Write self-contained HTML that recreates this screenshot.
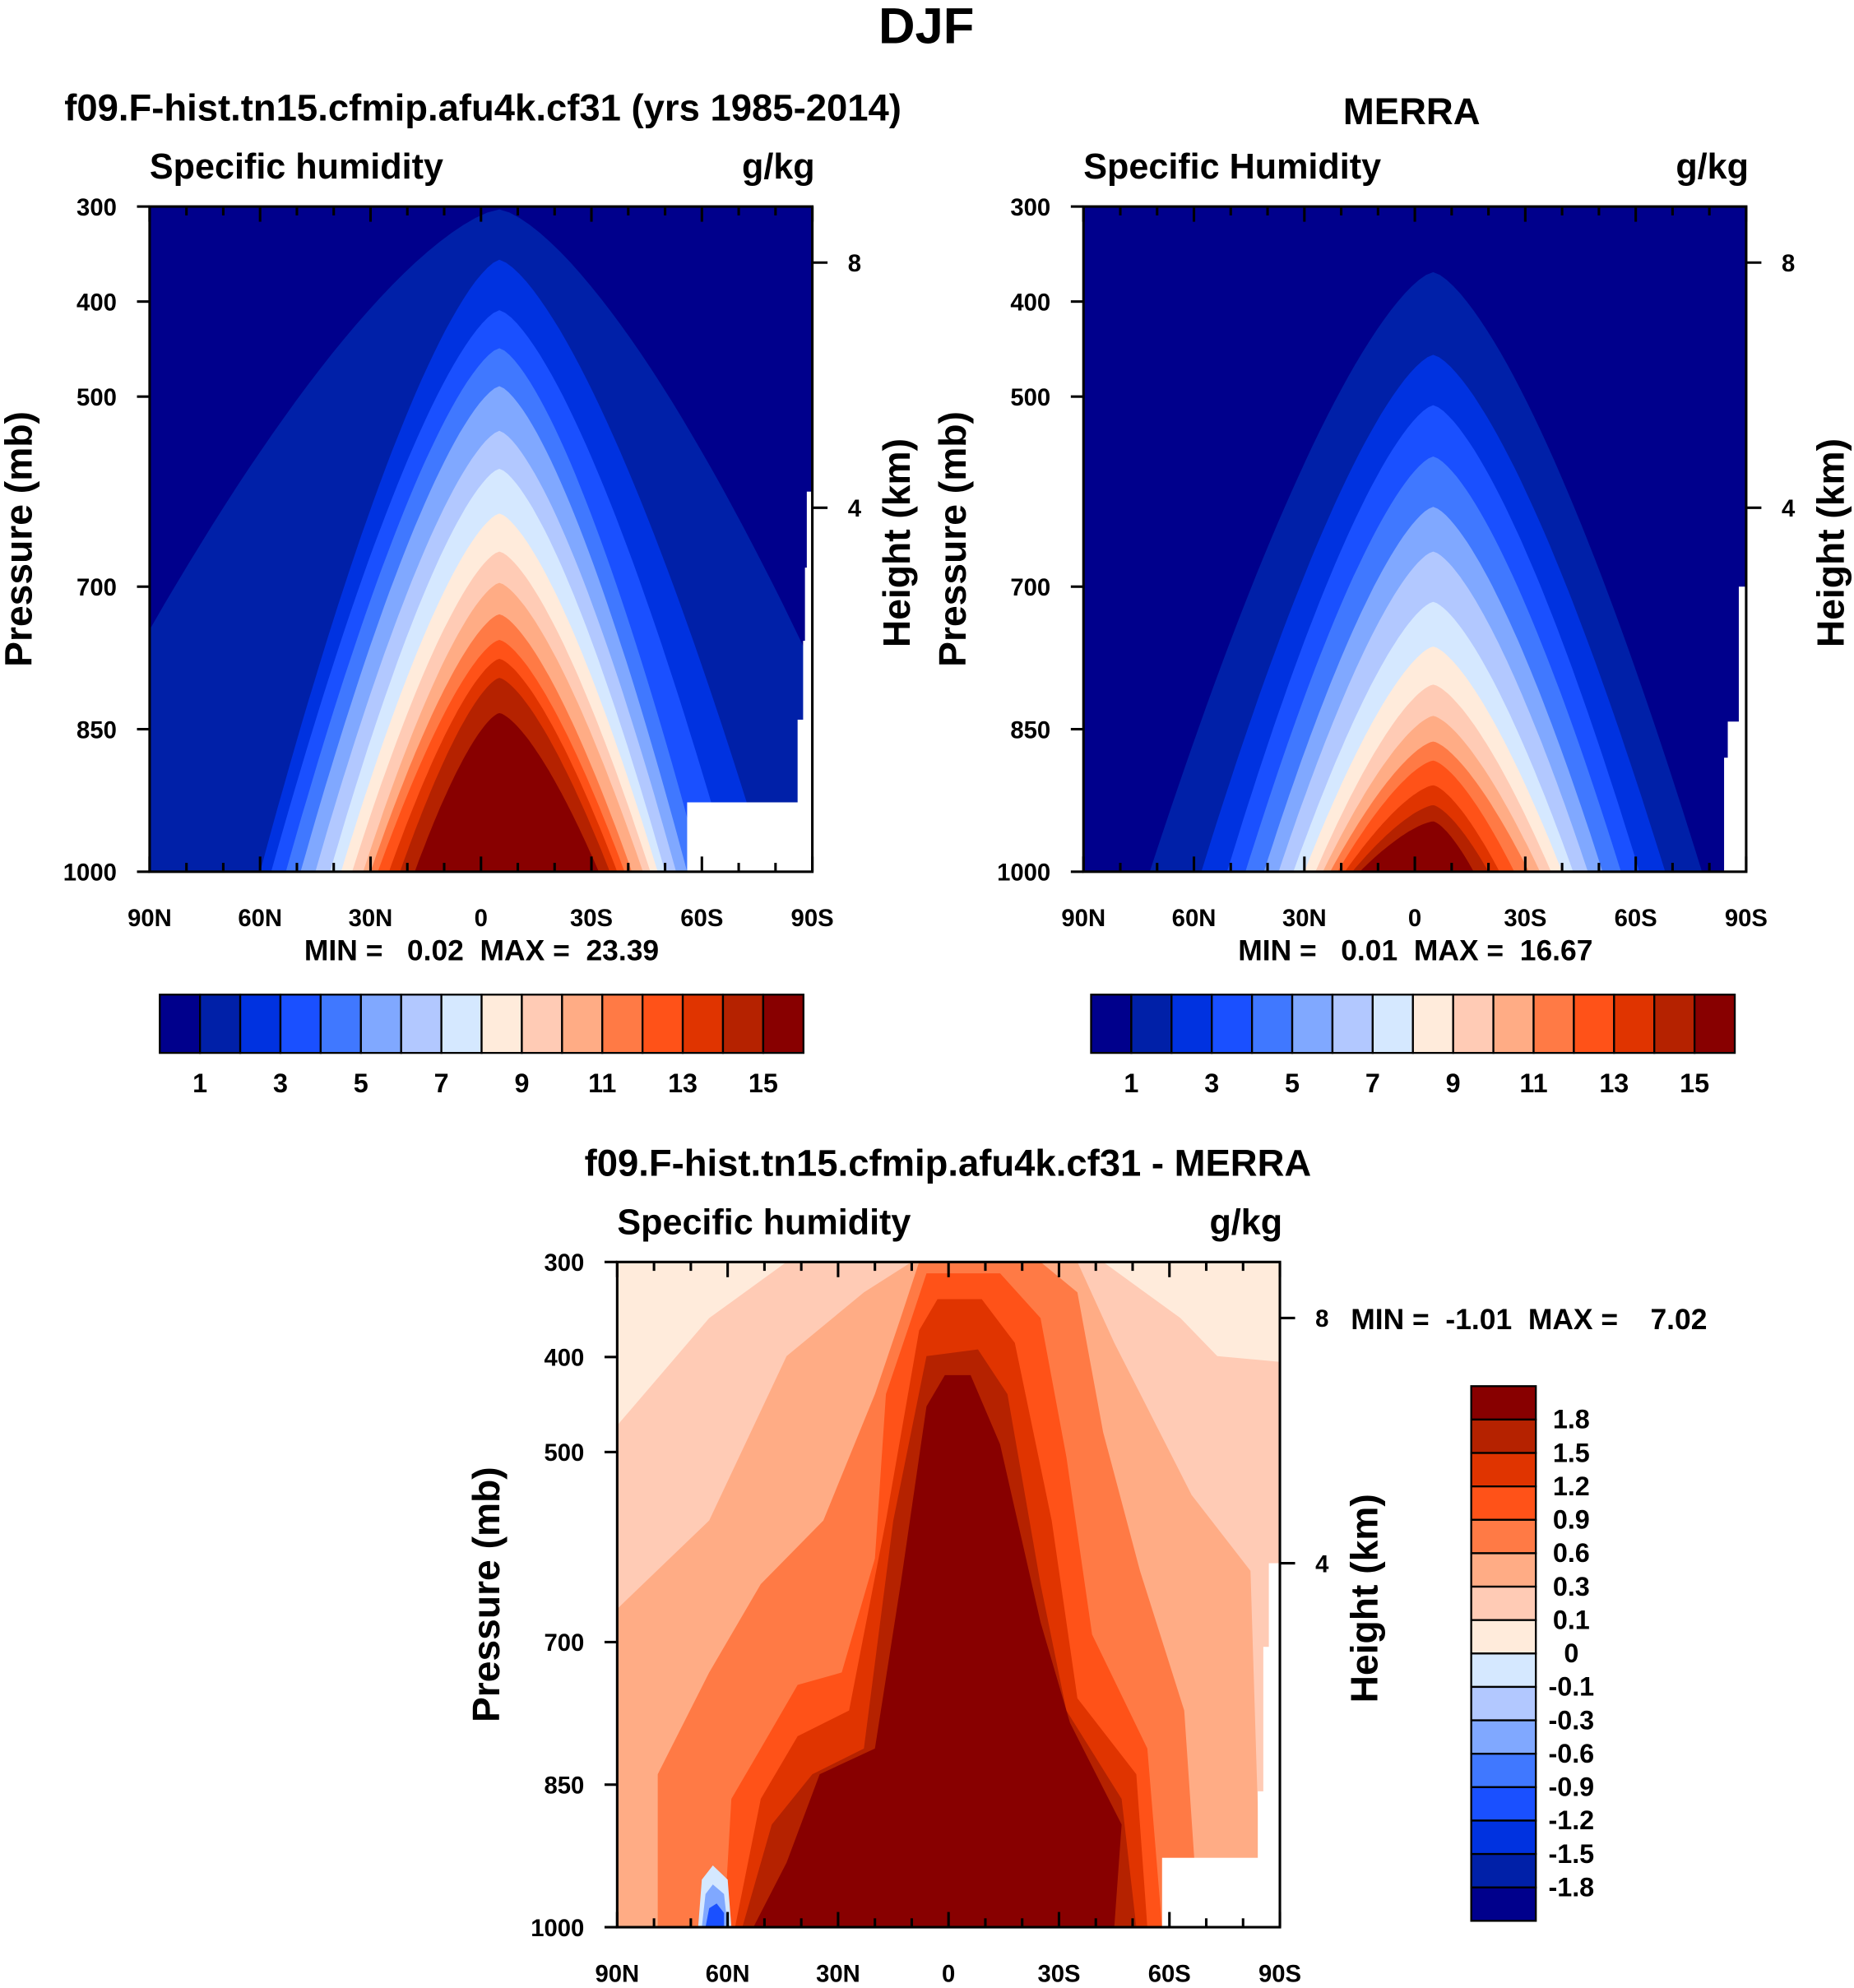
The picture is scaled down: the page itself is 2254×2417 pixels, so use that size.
<!DOCTYPE html>
<html><head><meta charset="utf-8"><style>
html,body{margin:0;padding:0;background:#fff}
svg{display:block}
text{font-family:"Liberation Sans",Arial,sans-serif;font-weight:bold;fill:#000;white-space:pre}
</style></head><body>
<svg id="root" xmlns="http://www.w3.org/2000/svg" width="2254" height="2417" viewBox="0 0 1463 1569">
<text x="731" y="34" font-size="40" text-anchor="middle">DJF</text>
<text x="381" y="95" font-size="29.5" text-anchor="middle">f09.F-hist.tn15.cfmip.afu4k.cf31 (yrs 1985-2014)</text>
<text x="1114" y="98" font-size="29.5" text-anchor="middle">MERRA</text>
<text x="748" y="928" font-size="29.5" text-anchor="middle">f09.F-hist.tn15.cfmip.afu4k.cf31 - MERRA</text>
<g id="plots"></g>
</svg>
<script>
// ---- data ----
const cols=['#00008c','#0020a8','#0032e0','#1a50ff','#4078ff','#80a8ff','#b2c8ff','#d5e8ff','#ffebdb','#ffcbb5','#ffac85','#ff7a45','#ff5218','#e03400','#b52200','#880000'];
const topLabels=['1','3','5','7','9','11','13','15'];
const diffLabels=['1.8','1.5','1.2','0.9','0.6','0.3','0.1','0','-0.1','-0.3','-0.6','-0.9','-1.2','-1.5','-1.8'];
const latLabels=['90N','60N','30N','0','30S','60S','90S'];
const presTicks=[300,400,500,700,850,1000];
const heightTicks=[8,4];
const heightPres=[359,617];
const p1Left=[-125,-60,-57,-53,-49,-45,-41,-38,-35,-32,-30,-28,-25,-22,-18];
const p1Right=[115,78,68,60,56,53,50,48,46,44,41,39,37,35,32];
const p1Top=[303,356,409,449,489,536,576,623,663,696,729,756,776,796,833];
const p1Peak=5;
const p2Left=[-72,-58,-51,-46,-41,-37,-33,-30,-27,-25,-23,-21,-19,-17,-15];
const p2Right=[78,68,61,56,51,47,43,40,37,34,31,27,23,20,16];
const p2Top=[369,456,509,563,616,663,716,763,803,836,863,883,909,930,947];
const p2Peak=5;
const d01=[[-90,472],[-65,359],[-44,300],[42,300],[63,359],[73,399],[90,405],[90,1000],[-90,1000]];
const d03=[[-90,665],[-65,572],[-44,399],[-23,332],[-10,300],[35,300],[45,385],[66,545],[82,625],[85,1000],[-90,1000],[-90,959]];
const d06=[[-79,1000],[-79,839],[-65,732],[-51,639],[-34,572],[-20,439],[-13,359],[-8,300],[25,300],[35,332],[42,479],[52,625],[64,772],[68,1000]];
const d09=[[-61,1000],[-59,865],[-51,812],[-41,745],[-29,732],[-20,612],[-17,439],[-10,359],[-6,312],[14,312],[25,359],[32,505],[39,692],[54,812],[58,1000]];
const d12=[[-58,1000],[-51,865],[-41,799],[-27,772],[-17,572],[-8,372],[-3,339],[9,339],[18,385],[28,572],[35,759],[51,839],[54,1000]];
const d15=[[-56,1000],[-48,892],[-37,839],[-23,812],[-15,572],[-6,399],[8,392],[16,439],[25,639],[32,772],[47,865],[51,1000]];
const d18=[[-53,1000],[-44,932],[-35,839],[-20,812],[-13,639],[-6,452],[-1,419],[6,419],[14,492],[25,679],[33,785],[47,892],[45,1000]];
const dNeg1=[[-68,1000],[-67,950],[-64,935],[-60,950],[-59,1000]];
const dNeg2=[[-67,1000],[-66,965],[-64,955],[-61,965],[-60,1000]];
const dNeg3=[[-66,1000],[-65,980],[-63,975],[-61,985],[-61,1000]];
// ---- drawing ----
const NS='http://www.w3.org/2000/svg';
const root=document.getElementById('plots');
function mk(tag,attrs,parent){const e=document.createElementNS(NS,tag);for(const k in attrs)e.setAttribute(k,attrs[k]);(parent||root).appendChild(e);return e;}
function axes(x0,y0,W,H){return {sx:u=>x0+(u+90)/180*W, sy:p=>y0+(p-300)/700*H};}
function smooth(pts){let d='M'+pts[0][0].toFixed(1)+','+pts[0][1].toFixed(1);for(let i=1;i<pts.length;i++)d+='L'+pts[i][0].toFixed(1)+','+pts[i][1].toFixed(1);return d+'Z';}
function shape(t){return 1-Math.pow(1-t,1.45);}
function tent(ax,L,R,top,peak){const pts=[];const N=40;
 for(let i=0;i<=N;i++){const u=L+(peak-L)*i/N;pts.push([ax.sx(u),ax.sy(1000-(1000-top)*shape(i/N))]);}
 for(let i=1;i<=N;i++){const u=peak+(R-peak)*i/N;pts.push([ax.sx(u),ax.sy(1000-(1000-top)*shape(1-i/N))]);}
 pts.push([ax.sx(R),ax.sy(1010)]);pts.push([ax.sx(L),ax.sy(1010)]);return pts;}
function frame(g,id,x0,y0,W,H,ax){
 const f=mk('rect',{x:x0,y:y0,width:W,height:H,fill:'none',stroke:'#000','stroke-width':2},g);
 
 for(let u=-90;u<=90;u+=10){const major=(u%30===0);const len=major?12:7;
  mk('line',{x1:ax.sx(u),x2:ax.sx(u),y1:y0,y2:y0+len,stroke:'#000','stroke-width':2},g);
  mk('line',{x1:ax.sx(u),x2:ax.sx(u),y1:y0+H,y2:y0+H-len,stroke:'#000','stroke-width':2},g);}
 latLabels.forEach((l,i)=>{const t=mk('text',{x:ax.sx(-90+30*i),y:y0+H+43,'font-size':19,'text-anchor':'middle'},g);t.textContent=l;
  });
 presTicks.forEach(p=>{mk('line',{x1:x0,x2:x0-10,y1:ax.sy(p),y2:ax.sy(p),stroke:'#000','stroke-width':2},g);
  const t=mk('text',{x:x0-26,y:ax.sy(p)+7,'font-size':19,'text-anchor':'end'},g);t.textContent=p;
  });
 heightTicks.forEach((h,i)=>{const y=ax.sy(heightPres[i]);mk('line',{x1:x0+W,x2:x0+W+12,y1:y,y2:y,stroke:'#000','stroke-width':2},g);
  const t=mk('text',{x:x0+W+28,y:y+7,'font-size':19},g);t.textContent=h;
  });
 const yl=mk('text',{x:0,y:0,'font-size':30,'text-anchor':'middle',transform:`translate(${x0-93},${y0+H/2}) rotate(-90)`},g);yl.textContent='Pressure (mb)';
 
 const hl=mk('text',{x:0,y:0,'font-size':30,'text-anchor':'middle',transform:`translate(${x0+W+77},${y0+H/2+3}) rotate(-90)`},g);hl.textContent='Height (km)';
 
}
function panel(id,x0,y0,sub,bg){
 const W=523,H=525;const ax=axes(x0,y0,W,H);
 const g=mk('g',{});
 const cp=mk('clipPath',{id:id+'-clip'},g);mk('rect',{x:x0,y:y0,width:W,height:H},cp);
 const c=mk('g',{'clip-path':`url(#${id}-clip)`},g);
 const b=mk('rect',{x:x0,y:y0,width:W,height:H,fill:bg},c);
 let t=mk('text',{x:x0,y:y0-22,'font-size':28},g);t.textContent=sub;
 t=mk('text',{x:x0+W+2,y:y0-22,'font-size':28,'text-anchor':'end'},g);t.textContent='g/kg';
 return {g,c,ax,W,H,x0,y0};
}
function whites(P,rects){rects.forEach(r=>{const e=mk('rect',{x:P.ax.sx(r[0]),y:P.ax.sy(r[1]),width:P.ax.sx(90)-P.ax.sx(r[0])+2,height:P.ax.sy(1000)-P.ax.sy(r[1])+2,fill:'#fff'},P.c);
 });}
const P1=panel('panel-model',118,163,'Specific humidity',cols[0]);
p1Top.forEach((tp,i)=>{const e=mk('path',{d:smooth(tent(P1.ax,p1Left[i],p1Right[i],tp,p1Peak)),fill:cols[i+1]},P1.c);
 });
whites(P1,[[56,927],[88.5,600],[87.5,757],[86,840],[88,680]]);
frame(P1.g,'panel-model',118,163,523,525,P1.ax);
const P2=panel('panel-merra',855,163,'Specific Humidity',cols[0]);
p2Top.forEach((tp,i)=>{const e=mk('path',{d:smooth(tent(P2.ax,p2Left[i],p2Right[i],tp,p2Peak)),fill:cols[i+1]},P2.c);
 });
whites(P2,[[88,700],[85,842],[84,880]]);
frame(P2.g,'panel-merra',855,163,523,525,P2.ax);
const P3=panel('panel-diff',487,996,'Specific humidity',cols[8]);
[[d01,9],[d03,10],[d06,11],[d09,12],[d12,13],[d15,14],[d18,15],[dNeg1,7],[dNeg2,5],[dNeg3,3]].forEach(([poly,ci],k)=>{
 const e=mk('path',{d:smooth(poly.map(q=>[P3.ax.sx(q[0]),P3.ax.sy(q[1])])),fill:cols[ci]},P3.c);
 });
whites(P3,[[58,927],[87,617],[85.5,705],[84,857]]);
frame(P3.g,'panel-diff',487,996,523,525,P3.ax);
function txt(x,y,s,sz,anchor,name){const t=mk('text',{x,y,'font-size':sz,'text-anchor':anchor||'start'});t.textContent=s;return t;}
txt(380,758,'MIN =   0.02  MAX =  23.39',23,'middle','panel1-minmax');
txt(1117,758,'MIN =   0.01  MAX =  16.67',23,'middle','panel2-minmax');
txt(1066,1049,'MIN =  -1.01  MAX =    7.02',23,'start','panel3-minmax');
function hbar(x0,name){const g=mk('g',{});
 const w=508/16;cols.forEach((c,i)=>{mk('rect',{x:x0+i*w,y:785,width:w,height:46,fill:c,stroke:'#000','stroke-width':1.5},g);});
 topLabels.forEach((l,i)=>{const t=mk('text',{x:x0+w*(1+2*i),y:862,'font-size':21,'text-anchor':'middle'},g);t.textContent=l;
  });}
hbar(126,'colorbar-model');hbar(861,'colorbar-merra');
(function(){const g=mk('g',{});
 const h=422/16;for(let i=0;i<16;i++)mk('rect',{x:1161,y:1094+i*h,width:51,height:h,fill:cols[15-i],stroke:'#000','stroke-width':1.5},g);
 diffLabels.forEach((l,i)=>{const t=mk('text',{x:1240,y:1094+h*(i+1)+7,'font-size':21,'text-anchor':'middle'},g);t.textContent=l;
  });})();
</script>
</body></html>
